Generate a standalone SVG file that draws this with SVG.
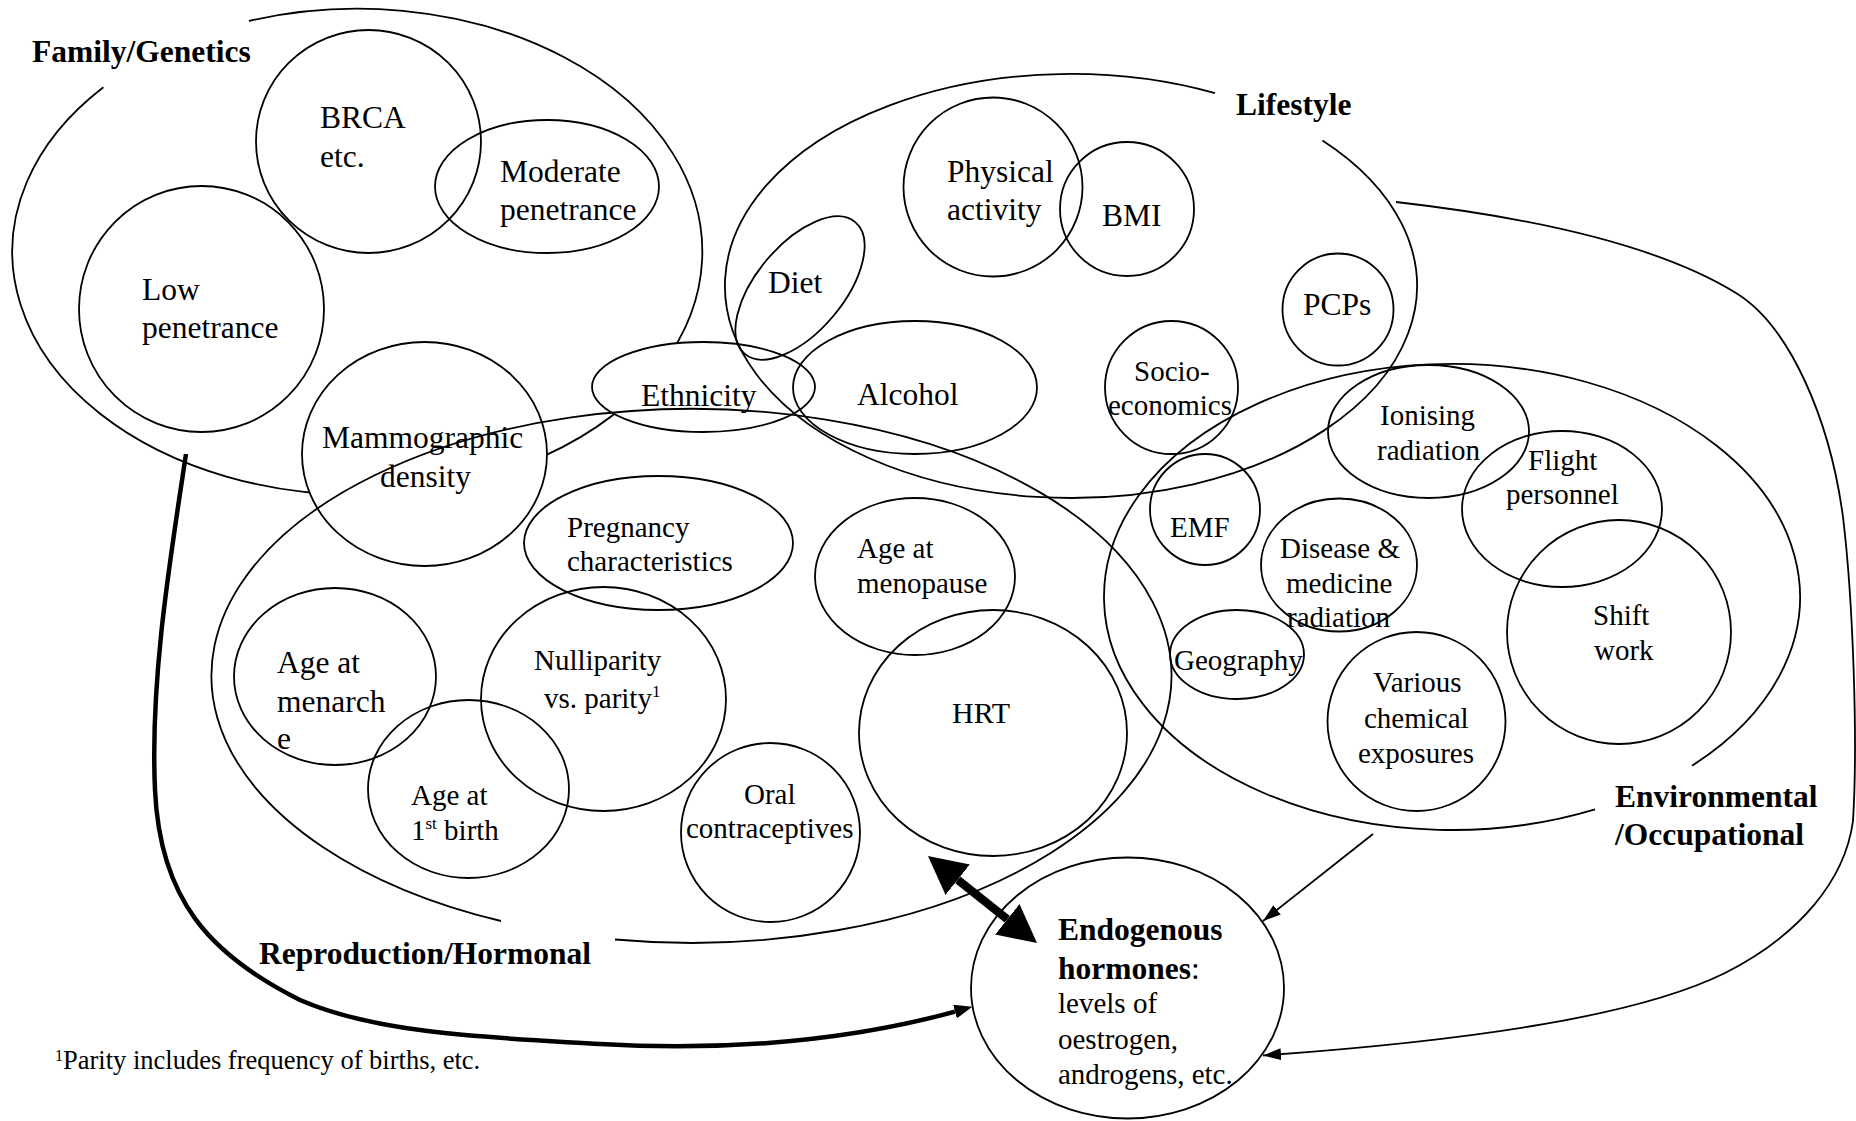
<svg xmlns="http://www.w3.org/2000/svg" width="1856" height="1121" viewBox="0 0 1856 1121">
<style>
  .o { fill: none; stroke: #000; stroke-width: 1.8; }
  .w { fill: #fff; stroke: #000; stroke-width: 1.8; }
  text { font-family: "Liberation Serif", "Times New Roman", serif; fill: #000; }
  .t { font-size: 31.5px; }
  .s { font-size: 29px; }
  .b { font-size: 31.5px; font-weight: bold; }
  .c { fill: none; stroke: #000; stroke-width: 1.8; }
</style>
<defs>
  <marker id="ah" markerUnits="userSpaceOnUse" markerWidth="20" markerHeight="14" refX="18" refY="7" orient="auto">
    <path d="M0,1 L18,7 L0,13 Z" fill="#000"/>
  </marker>
  <marker id="ahk" markerUnits="userSpaceOnUse" markerWidth="20" markerHeight="16" refX="0" refY="7" orient="auto">
    <path d="M0,0 L18,7 L0,14 Z" fill="#000"/>
  </marker>
  <marker id="bh" markerUnits="userSpaceOnUse" markerWidth="40" markerHeight="40" refX="0" refY="19.5" orient="auto-start-reverse">
    <path d="M0,0 L38,19.5 L0,39 Z" fill="#000"/>
  </marker>
</defs>
<rect width="1856" height="1121" fill="#fff"/>

<g id="family-genetics">
  <path class="o" d="M249,21 A345,243 0 1 1 103.4,87.2"/>
  <text class="b" x="32" y="62">Family/Genetics</text>
</g>
<g id="ethnicity">
  <ellipse class="w" cx="703.5" cy="387" rx="111.5" ry="45"/>
  <text class="t" x="641" y="406">Ethnicity</text>
</g>
<g id="mammographic-density">
  <ellipse class="w" cx="424.5" cy="454" rx="122.5" ry="112"/>
  <text class="t" x="322" y="448">Mammographic</text>
  <text class="t" x="380" y="487">density</text>
</g>
<g id="brca">
  <ellipse class="o" cx="368.5" cy="141.5" rx="112.5" ry="111.5"/>
  <text class="t" x="320" y="128">BRCA</text>
  <text class="t" x="320" y="167">etc.</text>
</g>
<g id="moderate-penetrance">
  <ellipse class="o" cx="547" cy="186.5" rx="112" ry="66.5"/>
  <text class="t" x="500" y="182">Moderate</text>
  <text class="t" x="500" y="220">penetrance</text>
</g>
<g id="low-penetrance">
  <ellipse class="o" cx="201.5" cy="309" rx="122.5" ry="123"/>
  <text class="t" x="142" y="300">Low</text>
  <text class="t" x="142" y="338">penetrance</text>
</g>

<g id="physical-activity">
  <ellipse class="o" cx="993" cy="187" rx="89.5" ry="89.5"/>
  <text class="t" x="947" y="182">Physical</text>
  <text class="t" x="947" y="220">activity</text>
</g>
<g id="bmi">
  <ellipse class="o" cx="1127" cy="209" rx="67" ry="67"/>
  <text class="t" x="1102" y="226">BMI</text>
</g>
<g id="diet">
  <ellipse class="o" cx="0" cy="0" rx="86" ry="43.5" transform="translate(800,288) rotate(-50)"/>
  <text class="t" x="768" y="293">Diet</text>
</g>
<g id="alcohol">
  <ellipse class="o" cx="915" cy="387.5" rx="122" ry="66.5"/>
  <text class="t" x="857" y="405">Alcohol</text>
</g>
<g id="pcps">
  <ellipse class="o" cx="1338" cy="309.5" rx="55.5" ry="56"/>
  <text class="t" x="1303" y="315">PCPs</text>
</g>
<g id="socio-economics">
  <ellipse class="o" cx="1171.5" cy="387.5" rx="66.5" ry="66.5"/>
  <text class="s" x="1134" y="381">Socio-</text>
  <text class="s" x="1108" y="415">economics</text>
</g>

<g id="pregnancy-characteristics">
  <ellipse class="o" cx="658.5" cy="543" rx="134.5" ry="67"/>
  <text class="s" x="567" y="537">Pregnancy</text>
  <text class="s" x="567" y="571">characteristics</text>
</g>
<g id="age-at-menopause">
  <ellipse class="o" cx="915" cy="576.5" rx="100" ry="78.5"/>
  <text class="s" x="857" y="558">Age at</text>
  <text class="s" x="857" y="593">menopause</text>
</g>
<g id="age-at-menarche">
  <ellipse class="o" cx="335" cy="676.5" rx="101" ry="88.5"/>
  <text class="t" x="277" y="673">Age at</text>
  <text class="t" x="277" y="712">menarch</text>
  <text class="t" x="277" y="749">e</text>
</g>
<g id="nulliparity">
  <ellipse class="o" cx="603.5" cy="699" rx="122.5" ry="112"/>
  <text class="s" x="534" y="670">Nulliparity</text>
  <text class="s" x="544" y="708">vs. parity<tspan font-size="17" dy="-11">1</tspan></text>
</g>
<g id="age-at-first-birth">
  <ellipse class="o" cx="468.5" cy="789" rx="100.5" ry="89"/>
  <text class="s" x="411" y="805">Age at</text>
  <text class="s" x="411" y="840">1<tspan font-size="17" dy="-11">st</tspan><tspan dy="11"> birth</tspan></text>
</g>
<g id="oral-contraceptives">
  <ellipse class="o" cx="770.5" cy="832.5" rx="89.5" ry="89.5"/>
  <text class="s" x="744" y="804">Oral</text>
  <text class="s" x="686" y="838">contraceptives</text>
</g>
<g id="hrt">
  <ellipse class="o" cx="993" cy="733" rx="134" ry="123"/>
  <text x="952" y="723" font-size="30">HRT</text>
</g>

<g id="ionising-radiation">
  <ellipse class="o" cx="1428.5" cy="431.5" rx="100.5" ry="66.5"/>
  <text class="s" x="1380" y="425">Ionising</text>
  <text class="s" x="1377" y="460">radiation</text>
</g>
<g id="flight-personnel">
  <ellipse class="o" cx="1562" cy="509" rx="100" ry="78"/>
  <text class="s" x="1528" y="470">Flight</text>
  <text class="s" x="1506" y="504">personnel</text>
</g>
<g id="shift-work">
  <ellipse class="o" cx="1619" cy="632" rx="112" ry="112"/>
  <text class="s" x="1593" y="625">Shift</text>
  <text class="s" x="1594" y="660">work</text>
</g>
<g id="emf">
  <ellipse class="o" cx="1205" cy="509.5" rx="55" ry="55.5"/>
  <text class="s" x="1170" y="537">EMF</text>
</g>
<g id="disease-medicine-radiation">
  <ellipse class="o" cx="1339" cy="565" rx="78" ry="66.5"/>
  <text class="s" x="1280" y="558">Disease &amp;</text>
  <text class="s" x="1286" y="593">medicine</text>
  <text class="s" x="1287" y="627">radiation</text>
</g>
<g id="geography">
  <ellipse class="o" cx="1237" cy="654.5" rx="67" ry="44.5"/>
  <text class="s" x="1174" y="670">Geography</text>
</g>
<g id="various-chemical-exposures">
  <ellipse class="o" cx="1416.5" cy="721.5" rx="89" ry="89.5"/>
  <text class="s" x="1373" y="692">Various</text>
  <text class="s" x="1364" y="728">chemical</text>
  <text class="s" x="1358" y="763">exposures</text>
</g>

<g id="lifestyle">
  <path class="o" d="M1322.5,140.4 A346,212 0 1 1 1215,93.2"/>
  <text class="b" x="1236" y="115">Lifestyle</text>
</g>
<g id="reproduction-hormonal">
  <path class="o" d="M501,921 A480,267 0 1 1 615,939.5"/>
  <text class="b" x="259" y="964">Reproduction/Hormonal</text>
</g>
<g id="environmental-occupational">
  <path class="o" d="M1595,809.4 A348,233 0 1 1 1692,765.7"/>
  <text class="b" x="1615" y="807">Environmental</text>
  <text class="b" x="1615" y="845">/Occupational</text>
</g>

<g id="endogenous-hormones">
  <ellipse class="o" cx="1127.5" cy="988" rx="156.5" ry="130.5"/>
  <text class="b" x="1058" y="940">Endogenous</text>
  <text class="b" x="1058" y="979">hormones<tspan font-weight="normal">:</tspan></text>
  <text class="s" x="1058" y="1013">levels of</text>
  <text class="s" x="1058" y="1049">oestrogen,</text>
  <text class="s" x="1058" y="1084">androgens, etc.</text>
</g>

<g id="footnote">
  <text x="55" y="1069" font-size="26.5"><tspan font-size="16" dy="-8">1</tspan><tspan dy="8">Parity includes frequency of births, etc.</tspan></text>
</g>

<g id="connectors">
  <path d="M186,454 C170,560 150,680 155,790 C160,900 210,955 300,1000 C380,1035 500,1038 600,1044 C700,1050 830,1046 955,1011.6" fill="none" stroke="#000" stroke-width="4.5" marker-end="url(#ahk)"/>
  <path d="M957.7,879.7 L1007.3,919.3" fill="none" stroke="#000" stroke-width="8.5" marker-start="url(#bh)" marker-end="url(#bh)"/>
  <path class="c" d="M1373,834 L1263,921" marker-end="url(#ah)"/>
  <path class="c" d="M1396,202 C1510,215 1650,240 1736,293 C1790,326 1830,420 1843,517 C1853,600 1858,740 1853,821 C1845,880 1800,935 1725,973 C1640,1015 1480,1040 1263,1055.5" marker-end="url(#ah)"/>
</g>
</svg>
